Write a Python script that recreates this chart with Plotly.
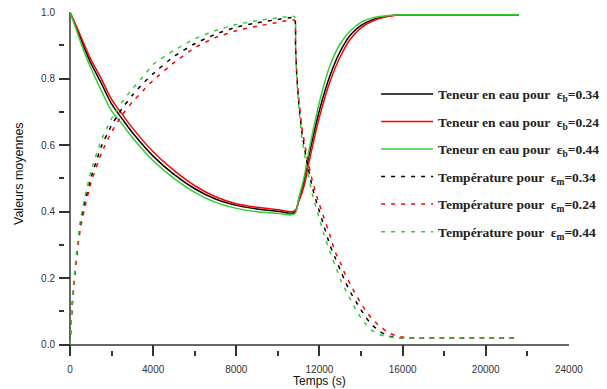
import plotly.graph_objects as go

# ---------------- data ----------------
t_water = [0, 250, 500, 750, 1000, 1500, 2000, 2500, 3000, 4000, 5000, 6000, 7000,
           8000, 9000, 10000, 10800, 11000, 11250, 11500, 11750, 12000, 12500, 13000,
           13500, 14000, 14500, 15000, 15500, 16000, 17000, 18000, 20000, 21600]
water_034 = [1.0, 0.962, 0.922, 0.883, 0.847, 0.787, 0.724, 0.680, 0.638, 0.567, 0.512,
             0.469, 0.438, 0.419, 0.408, 0.401, 0.398, 0.435, 0.490, 0.570, 0.640, 0.705,
             0.808, 0.882, 0.932, 0.960, 0.976, 0.985, 0.990, 0.992, 0.992, 0.992, 0.992, 0.992]
water_024 = [1.0, 0.966, 0.930, 0.893, 0.858, 0.800, 0.738, 0.694, 0.652, 0.580, 0.524,
             0.478, 0.445, 0.424, 0.413, 0.406, 0.402, 0.430, 0.475, 0.550, 0.620, 0.685,
             0.790, 0.866, 0.920, 0.953, 0.972, 0.983, 0.989, 0.992, 0.992, 0.992, 0.992, 0.992]
water_044 = [1.0, 0.957, 0.912, 0.870, 0.833, 0.765, 0.703, 0.664, 0.623, 0.553, 0.500,
             0.458, 0.428, 0.410, 0.400, 0.395, 0.393, 0.440, 0.500, 0.585, 0.660, 0.730,
             0.838, 0.905, 0.945, 0.969, 0.982, 0.988, 0.991, 0.992, 0.992, 0.992, 0.992, 0.992]

t_temp = [0, 100, 200, 300, 400, 500, 700, 1000, 1500, 2000, 2500, 3000, 3500, 4000,
          5000, 6000, 7000, 8000, 9000, 10000, 10800, 10850, 10900, 11000, 11150, 11400,
          11650, 11900, 12200, 12500, 12750, 13000, 13250, 13500, 13750, 14000, 14250,
          14500, 14900, 15300, 15700, 16200, 17000, 18000, 19000, 20000, 21600]
temp_034 = [0.0, 0.115, 0.190, 0.260, 0.315, 0.360, 0.425, 0.500, 0.595, 0.660, 0.710,
            0.750, 0.785, 0.815, 0.867, 0.905, 0.934, 0.955, 0.968, 0.978, 0.983, 0.900,
            0.820, 0.730, 0.640, 0.550, 0.475, 0.420, 0.360, 0.300, 0.262, 0.225, 0.188,
            0.157, 0.130, 0.105, 0.081, 0.061, 0.040, 0.027, 0.021, 0.020, 0.020, 0.020,
            0.020, 0.020, 0.020]
temp_024 = [0.0, 0.110, 0.185, 0.250, 0.305, 0.350, 0.410, 0.485, 0.575, 0.640, 0.690,
            0.730, 0.763, 0.795, 0.848, 0.893, 0.924, 0.944, 0.958, 0.969, 0.976, 0.900,
            0.825, 0.745, 0.655, 0.565, 0.495, 0.440, 0.385, 0.330, 0.280, 0.247, 0.210,
            0.180, 0.150, 0.125, 0.100, 0.080, 0.055, 0.037, 0.026, 0.021, 0.020, 0.020,
            0.020, 0.020, 0.020]
temp_044 = [0.0, 0.120, 0.200, 0.270, 0.325, 0.375, 0.440, 0.520, 0.615, 0.680, 0.730,
            0.770, 0.805, 0.843, 0.885, 0.920, 0.945, 0.963, 0.975, 0.983, 0.987, 0.900,
            0.810, 0.715, 0.625, 0.530, 0.455, 0.400, 0.335, 0.280, 0.240, 0.197, 0.165,
            0.135, 0.105, 0.080, 0.060, 0.044, 0.030, 0.024, 0.021, 0.020, 0.020, 0.020,
            0.020, 0.020, 0.020]

water_names = ["Teneur en eau pour  ε<sub>b</sub>=0.34",
               "Teneur en eau pour  ε<sub>b</sub>=0.24",
               "Teneur en eau pour  ε<sub>b</sub>=0.44"]
temp_names = ["Température pour  ε<sub>m</sub>=0.34",
              "Température pour  ε<sub>m</sub>=0.24",
              "Température pour  ε<sub>m</sub>=0.44"]
colors = ["#000000", "#ff0000", "#33cc33"]

x_ticks = [0, 4000, 8000, 12000, 16000, 20000, 24000]
y_ticks = [0.0, 0.2, 0.4, 0.6, 0.8, 1.0]

# ---------------- figure ----------------
fig = go.Figure()
for i, (vals, name) in enumerate(zip([water_034, water_024, water_044], water_names)):
    fig.add_trace(go.Scatter(x=t_water, y=vals, mode="lines", name=name,
                             legendgroup=f"w{i}",
                             line=dict(color=colors[i], width=1.5, shape="spline", smoothing=1.0)))
for i, (vals, name) in enumerate(zip([temp_034, temp_024, temp_044], temp_names)):
    fig.add_trace(go.Scatter(x=t_temp, y=vals, mode="lines", name=name,
                             legendgroup=f"t{i}",
                             line=dict(color=colors[i], width=1.5, dash="4px,6px",
                                       shape="spline", smoothing=0.4)))

ML, MR, MT, MB = 59, 38, 12, 33
plot_h = 389 - MT - MB
plot_w = 607 - ML - MR

fig.update_layout(
    width=607, height=389,
    margin=dict(l=ML, r=MR, t=MT, b=MB, autoexpand=False),
    paper_bgcolor="white", plot_bgcolor="white",
    showlegend=True,
    legend=dict(x=0.612 + 5 / plot_w, y=0.815 - 3 / plot_h, xanchor="left", yanchor="top",
                bgcolor="rgba(0,0,0,0)", itemwidth=52,
                font=dict(family="Liberation Serif", size=13.5, color="#222", weight="bold"),
                tracegroupgap=7),
    xaxis=dict(range=[-530, 24005], tickvals=x_ticks,
               ticktext=[str(v) for v in x_ticks], automargin=False,
               ticks="inside", ticklen=11, tickwidth=1.5, tickcolor="#333",
               minor=dict(ticks="inside", ticklen=5, dtick=2000, tickwidth=1.5, tickcolor="#333"),
               showgrid=False, showline=False,
               zeroline=True, zerolinecolor="#666", zerolinewidth=2,
               tickfont=dict(family="Liberation Sans", size=10, color="#333"),
               ticklabelstandoff=6),
    yaxis=dict(range=[-0.034, 1.0005], tickvals=y_ticks,
               ticktext=[f"{v:.1f}" for v in y_ticks], automargin=False,
               ticks="inside", ticklen=11, tickwidth=1.5, tickcolor="#333",
               minor=dict(ticks="inside", ticklen=5, dtick=0.1, tickwidth=1.5, tickcolor="#333"),
               showgrid=False, showline=False,
               zeroline=True, zerolinecolor="#666", zerolinewidth=2,
               tickfont=dict(family="Liberation Sans", size=10, color="#333"),
               ticklabelstandoff=3),
    annotations=[
        dict(text="Temps (s)", x=12000, xref="x", yref="paper",
             y=1 - (381 - MT) / plot_h, xanchor="center", yanchor="middle",
             showarrow=False, font=dict(family="Liberation Sans", size=12, color="#111")),
        dict(text="Valeurs moyennes", xref="paper", yref="paper",
             x=(19 - ML) / plot_w, y=1 - (174 - MT) / plot_h,
             xanchor="center", yanchor="middle", textangle=-90, showarrow=False,
             font=dict(family="Liberation Sans", size=12.5, color="#111")),
    ],
)

fig.write_html("out.html", config={"displayModeBar": False},
               post_script="document.body.style.margin='0';document.body.style.overflow='hidden';")
